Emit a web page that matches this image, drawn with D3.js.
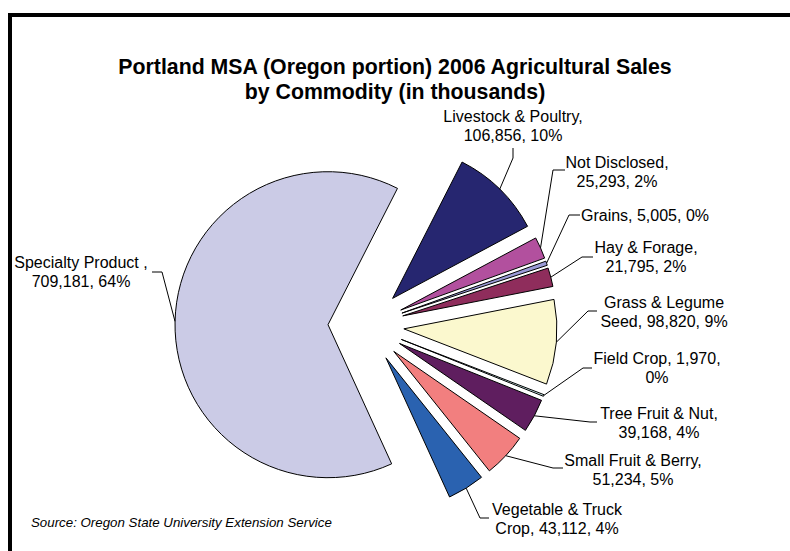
<!DOCTYPE html>
<html>
<head>
<meta charset="utf-8">
<script src="https://cdn.jsdelivr.net/npm/d3@7"></script>
<style>
  html, body { margin: 0; padding: 0; background: #ffffff; }
  svg { display: block; }
  text { font-family: "Liberation Sans", Arial, sans-serif; fill: #000; }
</style>
</head>
<body>
<svg id="chart" width="790" height="551"></svg>
<script>
// ---- data ----
const categories = [
  "Livestock & Poultry", "Not Disclosed", "Grains", "Hay & Forage",
  "Grass & Legume Seed", "Field Crop", "Tree Fruit & Nut",
  "Small Fruit & Berry", "Vegetable & Truck Crop", "Specialty Product "
];
const values = [106856, 25293, 5005, 21795, 98820, 1970, 39168, 51234, 43112, 709181];
const colors = [
  "#262670", "#B2509E", "#9A9AD6", "#8F2D5C", "#FBF8CE",
  "#D2F5F5", "#5F1E5F", "#F27F7F", "#2A62B0", "#CBCBE6"
];
const titleLines = ["Portland MSA (Oregon portion) 2006 Agricultural Sales", "by Commodity (in thousands)"];
const sourceText = "Source: Oregon State University Extension Service";

// ---- label layout (annotation placement) ----
const labelBreaks = [3, 2, 5, 3, 3, 3, 4, 4, 3, 3];
const labelCenters = [[513,116],[617,162],[645,215],[646,247],[664,302],[657,358],[659,413],[633,460],[557,509],[81,262]];
const leaderEnds = [
  [[513,158],[513,148]], [[553,170],[565,170]], [[569,215],[580,215]], [[582,257],[593,257]],
  [[588,311],[597,311]], [[583,368],[592,368]], [[590,422],[597,422]], [[553,468],[563,468]],
  [[480,518],[489,518]], [[162,272],[152,272]]
];

const svg = d3.select("#chart");

// frame
svg.append("rect").attr("x", 10).attr("y", 15).attr("width", 820).attr("height", 620)
  .attr("fill", "#fff").attr("stroke", "#000").attr("stroke-width", 4);

// title
const title = svg.append("text").attr("text-anchor", "middle")
  .style("font-weight", "bold").style("font-size", "21.3px");
titleLines.forEach((t, i) => {
  title.append("tspan").attr("x", 395).attr("y", 74 + i * 25).text(t);
});

// pie
const cx = 366, cy = 325.5, R = 153, explode = 38;
const start = 27 * Math.PI / 180;
const pie = d3.pie().sort(null).value(d => d).startAngle(start).endAngle(start + 2 * Math.PI);
const arcs = pie(values);
const arc = d3.arc().innerRadius(0).outerRadius(R);
const total = d3.sum(values);
const fmt = d3.format(",");

const g = svg.append("g").attr("transform", `translate(${cx},${cy})`);
arcs.forEach((a, i) => {
  const mid = (a.startAngle + a.endAngle) / 2;
  const dx = explode * Math.sin(mid), dy = -explode * Math.cos(mid);
  g.append("path").attr("d", arc(a))
    .attr("transform", `translate(${dx},${dy})`)
    .attr("fill", colors[i]).attr("stroke", "#000").attr("stroke-width", 1)
    .attr("stroke-linejoin", "round");
});

// labels + leaders
const line = d3.line();
arcs.forEach((a, i) => {
  const mid = (a.startAngle + a.endAngle) / 2;
  const px = cx + (explode + R) * Math.sin(mid);
  const py = cy - (explode + R) * Math.cos(mid);
  const pts = [[px, py]].concat(leaderEnds[i]);
  svg.append("path").attr("d", line(pts)).attr("fill", "none")
    .attr("stroke", "#000").attr("stroke-width", 1);

  const full = categories[i] + ", " + fmt(values[i]) + ", " + Math.round(values[i] / total * 100) + "%";
  const words = full.split(" ");
  const l1 = words.slice(0, labelBreaks[i]).join(" ");
  const l2 = words.slice(labelBreaks[i]).join(" ");
  const lines = l2 ? [l1, l2] : [l1];
  const t = svg.append("text").attr("text-anchor", "middle").style("font-size", "16px");
  lines.forEach((s, k) => {
    t.append("tspan").attr("x", labelCenters[i][0]).attr("y", labelCenters[i][1] + k * 19.5)
      .attr("dy", "0.35em").text(s);
  });
});

// source
svg.append("text").attr("x", 31).attr("y", 522).attr("dy", "0.35em")
  .style("font-size", "13.3px").style("font-style", "italic").text(sourceText);
</script>
</body>
</html>
